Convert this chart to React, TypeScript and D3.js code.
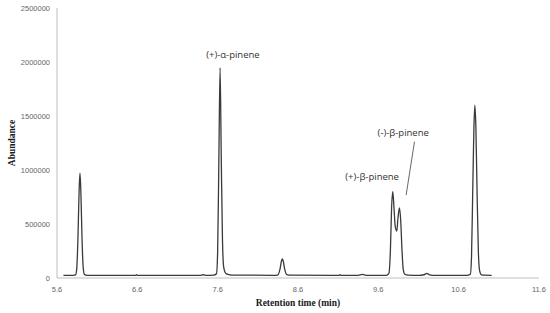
import React from "react";
import * as d3 from "d3";

const time = [
  5.68, 5.8, 5.83, 5.845, 5.86, 5.875, 5.886, 5.897, 5.912, 5.927, 5.94, 5.96, 6.0,
  6.58, 6.59, 6.6,
  7.38, 7.42, 7.46, 7.55, 7.585, 7.6, 7.615, 7.63, 7.645, 7.66, 7.675, 7.7, 7.74, 7.8,
  8.3, 8.35, 8.375, 8.395, 8.405, 8.415, 8.435, 8.46, 8.52,
  9.115, 9.124, 9.133, 9.35, 9.4, 9.45,
  9.7, 9.73, 9.75, 9.765, 9.78, 9.795, 9.81, 9.83, 9.845, 9.863, 9.878, 9.895, 9.91, 9.93, 9.97,
  10.1, 10.17, 10.2, 10.24, 10.3,
  10.7, 10.745, 10.76, 10.775, 10.79, 10.802, 10.814, 10.829, 10.845, 10.86, 10.88, 10.92, 11.01,
];
const abundance = [
  25000, 25000, 28000, 80000, 350000, 800000, 970000, 800000, 350000, 90000, 35000, 27000, 25000,
  25000, 30000, 25000,
  25000, 30000, 25000, 27000, 40000, 250000, 1100000, 1945000, 1100000, 350000, 100000, 45000, 32000, 27000,
  25000, 30000, 80000, 160000, 176000, 160000, 80000, 32000, 26000,
  25000, 30000, 25000, 25000, 33000, 25000,
  25000, 40000, 250000, 650000, 800000, 650000, 480000, 435000, 560000, 648000, 540000, 250000, 80000, 35000, 27000,
  25000, 30000, 42000, 30000, 25000,
  25000, 35000, 200000, 800000, 1400000, 1600000, 1400000, 800000, 250000, 70000, 32000, 26000, 25000,
];

const xTicks = [5.6, 6.6, 7.6, 8.6, 9.6, 10.6, 11.6];
const yTicks = [0, 500000, 1000000, 1500000, 2000000, 2500000];

const labelText = ["(+)-α-pinene", "(+)-β-pinene", "(-)-β-pinene"];
const labelTime = [7.79, 9.523, 9.91];
const labelValue = [2037000, 912000, 1319000];

const leaderTime = [10.05, 9.946];
const leaderValue = [1262000, 768000];

export default function App() {
  const width = 550;
  const height = 313;
  const x = d3.scaleLinear().domain([5.6, 11.6]).range([57, 539]);
  const y = d3.scaleLinear().domain([0, 2500000]).range([278, 8]);
  const pts = time.map((t, i) => [t, abundance[i]] as [number, number]);
  const line = d3
    .line<[number, number]>()
    .x((d) => x(d[0]))
    .y((d) => y(d[1]))
    .curve(d3.curveMonotoneX);
  const tickFont = "'Liberation Sans', 'Open Sans', sans-serif";
  return (
    <svg
      width={width}
      height={height}
      style={{ position: "absolute", left: 0, top: 0, background: "#fff" }}
    >
      <line x1={x(5.6)} x2={x(11.6)} y1={y(0)} y2={y(0)} stroke="#bfbfbf" strokeWidth={1} />
      <line x1={x(5.6)} x2={x(5.6)} y1={y(0)} y2={y(2500000)} stroke="#bfbfbf" strokeWidth={1} />
      {yTicks.map((v) => (
        <text
          key={"y" + v}
          x={50}
          y={y(v)}
          dy="0.35em"
          textAnchor="end"
          fontSize={7.5}
          fill="#666"
          fontFamily={tickFont}
        >
          {String(v)}
        </text>
      ))}
      {xTicks.map((v) => (
        <text
          key={"x" + v}
          x={x(v)}
          y={289}
          dy="0.35em"
          textAnchor="middle"
          fontSize={7.5}
          fill="#666"
          fontFamily={tickFont}
        >
          {v.toFixed(1)}
        </text>
      ))}
      <path d={line(pts) || ""} fill="none" stroke="#3a3a3a" strokeWidth={1.3} />
      <line
        x1={x(leaderTime[0])}
        y1={y(leaderValue[0])}
        x2={x(leaderTime[1])}
        y2={y(leaderValue[1])}
        stroke="#404040"
        strokeWidth={0.8}
      />
      {labelText.map((t, i) => (
        <text
          key={t}
          x={x(labelTime[i])}
          y={y(labelValue[i])}
          textAnchor="middle"
          fontSize={9.5}
          fill="#333"
          fontFamily="'Open Sans', 'Liberation Sans', sans-serif"
        >
          {t}
        </text>
      ))}
      <text
        x={298}
        y={306}
        textAnchor="middle"
        fontSize={9.5}
        fontWeight="bold"
        fill="#1a1a1a"
        fontFamily="'Liberation Serif', serif"
      >
        Retention time (min)
      </text>
      <text
        transform="translate(15,143) rotate(-90)"
        textAnchor="middle"
        fontSize={9.5}
        fontWeight="bold"
        fill="#1a1a1a"
        fontFamily="'Liberation Serif', serif"
      >
        Abundance
      </text>
    </svg>
  );
}
